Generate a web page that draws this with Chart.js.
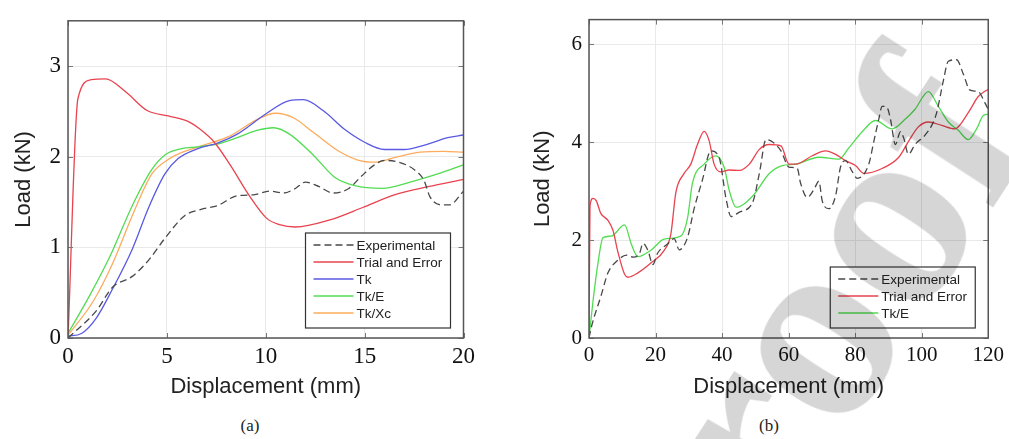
<!DOCTYPE html>
<html>
<head>
<meta charset="utf-8">
<title>Load vs displacement</title>
<script src="https://cdn.jsdelivr.net/npm/chart.js@4.4.0/dist/chart.umd.min.js"></script>
<style>
  html, body { margin: 0; padding: 0; background: #fff; }
  body { width: 1009px; height: 439px; position: relative; overflow: hidden; }
  #chartA { position: absolute; left: 0; top: 0; }
  #chartB { position: absolute; left: 500px; top: 0; }
  .caption {
    position: absolute; top: 416px; width: 40px; text-align: center;
    font-family: 'Liberation Serif', 'Times New Roman', serif; font-size: 17px; line-height: 20px; color: #222;
  }
  .stamp {
    position: absolute; left: 431px; top: 847px;
    font: bold 270px/1 'Liberation Serif', 'Times New Roman', serif;
    color: #d6d6d6; white-space: nowrap;
    transform-origin: 0 226px; transform: rotate(-57deg);
    mix-blend-mode: multiply; pointer-events: none;
  }
</style>
</head>
<body>
<canvas id="chartA" width="480" height="400"></canvas>
<canvas id="chartB" width="509" height="400"></canvas>
<div class="caption" style="left:230px">(a)</div>
<div class="caption" style="left:749px">(b)</div>
<div class="stamp">Pre-proof</div>

<script>
// ---- (a) 0-20 mm ----
const xTicksA = [0, 5, 10, 15, 20];
const yTicksA = [0, 1, 2, 3];

const expA_x = [0, 1.43, 2.25, 3.25, 4.08, 4.9, 5.9, 6.73, 7.56, 8.56, 9.4, 10.2, 10.9, 11.5, 12.0, 12.7, 13.4, 14.2, 14.86, 15.5, 16.0, 16.7, 17.5, 18.0, 18.3, 18.85, 19.3, 20];
const expA_y = [0, 0.30, 0.56, 0.68, 0.86, 1.10, 1.35, 1.42, 1.46, 1.57, 1.58, 1.62, 1.60, 1.65, 1.72, 1.67, 1.60, 1.65, 1.79, 1.91, 1.96, 1.94, 1.86, 1.74, 1.56, 1.47, 1.47, 1.62];

const trialA_x = [0, 0.5, 1.18, 1.9, 2.9, 4.0, 5.07, 6.07, 6.7, 7.4, 8.2, 9.2, 10.05, 10.7, 11.5, 13.2, 14.9, 16.5, 18.2, 20];
const trialA_y = [0, 2.64, 2.85, 2.86, 2.72, 2.51, 2.45, 2.39, 2.30, 2.16, 1.91, 1.56, 1.32, 1.25, 1.225, 1.30, 1.44, 1.58, 1.67, 1.75];

const tkA_x = [0, 0.68, 1.43, 2.25, 3.25, 4.08, 4.9, 5.57, 6.57, 7.56, 8.56, 10.05, 11.2, 11.9, 12.9, 14.0, 15.0, 16.0, 17.0, 18.2, 19.2, 20];
const tkA_y = [0.02, 0.05, 0.22, 0.54, 0.98, 1.44, 1.81, 1.98, 2.09, 2.15, 2.25, 2.48, 2.62, 2.63, 2.51, 2.30, 2.16, 2.08, 2.08, 2.14, 2.21, 2.24];

const tkEA_x = [0, 1.1, 2.1, 3.25, 4.24, 4.9, 5.74, 6.57, 7.56, 8.56, 9.55, 10.4, 11.2, 12.4, 13.5, 14.5, 15.9, 17.3, 18.7, 20];
const tkEA_y = [0.05, 0.47, 0.89, 1.46, 1.86, 2.02, 2.09, 2.11, 2.14, 2.21, 2.29, 2.32, 2.25, 2.02, 1.77, 1.68, 1.65, 1.72, 1.81, 1.91];

const tkXcA_x = [0, 1.26, 2.25, 3.25, 4.24, 5.07, 5.9, 6.9, 8.2, 9.55, 10.5, 11.4, 12.4, 13.7, 14.7, 15.5, 16.5, 17.8, 19.0, 20];
const tkXcA_y = [0.03, 0.40, 0.82, 1.35, 1.81, 1.97, 2.06, 2.13, 2.23, 2.41, 2.48, 2.43, 2.27, 2.06, 1.96, 1.94, 1.99, 2.05, 2.06, 2.05];

// ---- (b) 0-120 mm ----
const xTicksB = [0, 20, 40, 60, 80, 100, 120];
const yTicksB = [0, 2, 4, 6];

const expB_x = [0, 0.7, 3.7, 5.7, 8.7, 11.3, 13.3, 15.2, 16.2, 17.7, 19.2, 20.6, 23.6, 25.6, 27.1, 29.6, 31.6, 34.1, 36.6, 39.1, 41.2, 42.7, 45.2, 49.2, 51.2, 53.2, 55.2, 57.7, 60.1, 62.6, 63.6, 65.6, 67.6, 69.1, 70.1, 72.1, 74.1, 75.6, 77.1, 79.1, 80.6, 84.1, 85.6, 87.1, 88.1, 89.6, 90.6, 92.1, 93.6, 94.6, 96.0, 98.0, 101, 103, 104.5, 106.5, 108, 110.5, 112.5, 114.5, 117, 119, 120];
const expB_y = [0, 0.22, 0.88, 1.33, 1.59, 1.69, 1.65, 1.73, 1.93, 1.79, 1.50, 1.73, 1.92, 2.03, 1.80, 2.05, 2.64, 3.23, 3.82, 3.69, 2.84, 2.48, 2.57, 2.77, 3.36, 4.05, 4.00, 3.82, 3.49, 3.46, 3.16, 2.87, 3.03, 3.20, 2.80, 2.64, 2.90, 3.49, 3.62, 3.40, 3.26, 3.55, 4.01, 4.47, 4.73, 4.70, 4.47, 3.95, 4.21, 4.08, 3.75, 3.95, 4.14, 4.34, 4.60, 5.25, 5.65, 5.68, 5.39, 5.06, 5.03, 4.80, 4.67];

const trialB_x = [0, 0.3, 1.2, 2.2, 3.5, 5.7, 7.2, 8.7, 10.7, 11.7, 14.7, 18.6, 22.6, 24.6, 26.1, 28.6, 30.6, 32.6, 34.6, 36.1, 37.6, 39.6, 42.2, 45.2, 48.2, 51.2, 54.2, 57.7, 60.1, 62.1, 67.1, 71.1, 74.1, 77.1, 80.1, 82.6, 88.1, 93.1, 96.0, 99.0, 102, 106, 110, 114, 117, 120];
const trialB_y = [0, 2.70, 2.85, 2.80, 2.55, 2.40, 2.20, 1.75, 1.30, 1.24, 1.33, 1.53, 1.79, 2.12, 2.97, 3.36, 3.55, 3.95, 4.22, 4.03, 3.55, 3.39, 3.43, 3.42, 3.55, 3.85, 3.95, 3.92, 3.55, 3.55, 3.72, 3.82, 3.75, 3.62, 3.52, 3.36, 3.46, 3.69, 4.01, 4.31, 4.41, 4.34, 4.27, 4.60, 4.93, 5.08];

const tkEB_x = [0, 1.2, 2.7, 4.2, 6.7, 10.7, 12.7, 14.7, 18.6, 22.6, 27.6, 29.6, 31.1, 34.6, 38.1, 40.6, 42.2, 44.2, 49.2, 54.2, 58.1, 62.1, 69.1, 75.1, 78.1, 82.1, 86.1, 91.1, 95.1, 98.0, 102, 105, 108, 111, 114, 116.5, 118.5, 120];
const tkEB_y = [0, 0.75, 1.53, 2.05, 2.08, 2.31, 1.92, 1.66, 1.79, 2.02, 2.08, 2.44, 3.16, 3.55, 3.72, 3.49, 3.00, 2.67, 2.90, 3.36, 3.52, 3.55, 3.69, 3.65, 3.88, 4.21, 4.44, 4.27, 4.47, 4.67, 5.03, 4.73, 4.41, 4.24, 4.05, 4.27, 4.54, 4.57];

const RED = '#e8434e', BLUE = '#5959e3', GREEN = '#52dc52', ORANGE = '#fdab5c', DARK = '#484848';

function pts(xs, ys) {
  return xs.map((x, i) => ({ x: x, y: ys[i] }));
}

function series(label, xs, ys, color, dashed) {
  return {
    label: label,
    data: pts(xs, ys),
    borderColor: color,
    borderWidth: 1.3,
    borderDash: dashed ? [7, 4] : [],
    pointRadius: 0,
    fill: false,
    cubicInterpolationMode: 'monotone'
  };
}

// frame with inward ticks on all four sides
const framePlugin = {
  id: 'frame',
  afterDraw(chart) {
    const { ctx, chartArea: a, scales } = chart;
    ctx.save();
    ctx.strokeStyle = '#777';
    ctx.lineWidth = 1;
    ctx.beginPath();
    scales.x.ticks.forEach(t => {
      const px = Math.round(scales.x.getPixelForValue(t.value)) + 0.5;
      ctx.moveTo(px, a.bottom); ctx.lineTo(px, a.bottom - 5);
      ctx.moveTo(px, a.top); ctx.lineTo(px, a.top + 5);
    });
    scales.y.ticks.forEach(t => {
      const py = Math.round(scales.y.getPixelForValue(t.value)) + 0.5;
      ctx.moveTo(a.left, py); ctx.lineTo(a.left + 5, py);
      ctx.moveTo(a.right, py); ctx.lineTo(a.right - 5, py);
    });
    ctx.stroke();
    ctx.strokeStyle = '#555';
    ctx.lineWidth = 1.5;
    ctx.strokeRect(a.left, a.top, a.right - a.left, a.bottom - a.top);
    ctx.restore();
  }
};

// boxed legend in the lower right corner of the plot
const boxLegend = {
  id: 'boxLegend',
  afterDraw(chart) {
    const { ctx, chartArea: a } = chart;
    const sets = chart.data.datasets;
    const w = 145, row = 17, h = 10 + sets.length * row;
    const x0 = a.right - 13 - w, y0 = a.bottom - 10 - h;
    ctx.save();
    ctx.fillStyle = '#fff';
    ctx.fillRect(x0, y0, w, h);
    ctx.strokeStyle = '#333';
    ctx.lineWidth = 1.2;
    ctx.strokeRect(x0, y0, w, h);
    ctx.font = '13.5px "Liberation Sans", Arial, sans-serif';
    ctx.textBaseline = 'middle';
    sets.forEach((ds, i) => {
      const y = y0 + 12 + i * row;
      ctx.strokeStyle = ds.borderColor;
      ctx.lineWidth = ds.borderWidth;
      ctx.setLineDash(ds.borderDash || []);
      ctx.beginPath();
      ctx.moveTo(x0 + 8, y);
      ctx.lineTo(x0 + 48, y);
      ctx.stroke();
      ctx.setLineDash([]);
      ctx.fillStyle = '#222';
      ctx.fillText(ds.label, x0 + 51, y + 1);
    });
    ctx.restore();
  }
};

function makeChart(id, datasets, xr, yr, xTicks, yTicks, opts) {
  return new Chart(document.getElementById(id), {
    type: 'line',
    data: { datasets: datasets },
    plugins: [framePlugin, boxLegend],
    options: {
      responsive: false,
      animation: false,
      devicePixelRatio: 1,
      layout: { padding: { top: 7, right: opts.padRight, left: 0, bottom: 0 } },
      plugins: { legend: { display: false }, tooltip: { enabled: false } },
      scales: {
        x: {
          type: 'linear', min: xr[0], max: xr[1],
          afterBuildTicks: s => { s.ticks = xTicks.map(v => ({ value: v })); },
          afterFit: s => { s.height = 62; },
          grid: { color: '#e9e9e9', drawTicks: false },
          border: { display: false },
          ticks: { padding: 5, color: '#111', font: { family: '"Liberation Serif", "Times New Roman", serif', size: opts.tickSize } },
          title: { display: true, text: 'Displacement (mm)', color: '#222', padding: { top: 0, bottom: 0 },
                   font: { family: '"Liberation Sans", Arial, sans-serif', size: 22 } }
        },
        y: {
          type: 'linear', min: yr[0], max: yr[1],
          afterBuildTicks: s => { s.ticks = yTicks.map(v => ({ value: v })); },
          afterFit: s => { s.width = opts.yWidth; },
          grid: { color: '#e9e9e9', drawTicks: false },
          border: { display: false },
          ticks: { padding: 7, color: '#111', font: { family: '"Liberation Serif", "Times New Roman", serif', size: opts.tickSize } },
          title: { display: true, text: 'Load (kN)', color: '#222', padding: { top: opts.yTitlePad, bottom: 0 },
                   font: { family: '"Liberation Sans", Arial, sans-serif', size: 22 } }
        }
      }
    }
  });
}

makeChart('chartA', [
  series('Experimental', expA_x, expA_y, DARK, true),
  series('Trial and Error', trialA_x, trialA_y, RED),
  series('Tk', tkA_x, tkA_y, BLUE),
  series('Tk/E', tkEA_x, tkEA_y, GREEN),
  series('Tk/Xc', tkXcA_x, tkXcA_y, ORANGE)
], [0, 20], [0, 3.5], xTicksA, yTicksA, { padRight: 10, yWidth: 68, tickSize: 23, yTitlePad: 11 });

makeChart('chartB', [
  series('Experimental', expB_x, expB_y, DARK, true),
  series('Trial and Error', trialB_x, trialB_y, RED),
  series('Tk/E', tkEB_x, tkEB_y, GREEN)
], [0, 120], [0, 6.5], xTicksB, yTicksB, { padRight: 19, yWidth: 89, tickSize: 21, yTitlePad: 30 });
</script>
</body>
</html>
